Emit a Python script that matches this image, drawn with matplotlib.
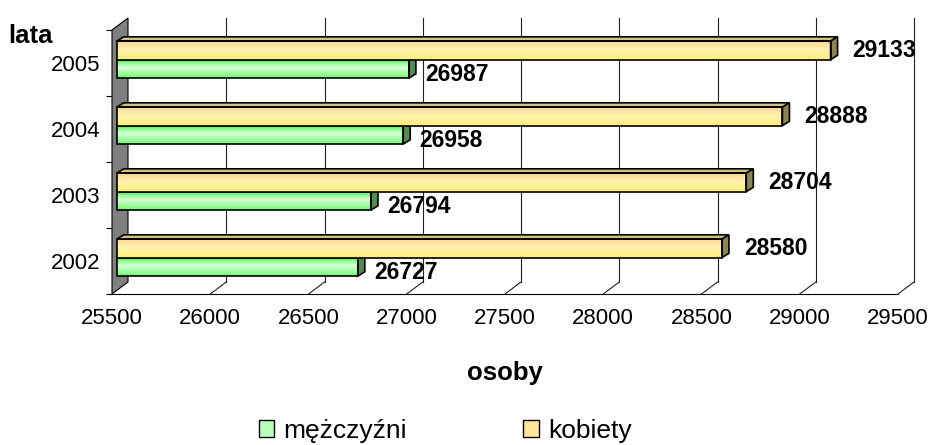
import numpy as np
import matplotlib
matplotlib.use("Agg")
import matplotlib.pyplot as plt
from matplotlib.patches import Polygon, Rectangle
from matplotlib.colors import LinearSegmentedColormap

plt.rcParams['font.family'] = ['Liberation Sans', 'DejaVu Sans']

# === Data ===
years = ["2002", "2003", "2004", "2005"]
men = [26727, 26794, 26958, 26987]
women = [28580, 28704, 28888, 29133]
series_names = ["mężczyźni", "kobiety"]
x_ticks = [25500, 26000, 26500, 27000, 27500, 28000, 28500, 29000, 29500]

# === Figure / axes geometry (pixels) ===
W, H = 932, 445
fig = plt.figure(figsize=(W / 100, H / 100), dpi=100)
ax_l, ax_r, ax_top, ax_bot = 112, 898, 30, 294
ax = fig.add_axes([ax_l / W, 1 - ax_bot / H, (ax_r - ax_l) / W, (ax_bot - ax_top) / H])
xmin, xmax = x_ticks[0], x_ticks[-1]
ax.set_xlim(xmin, xmax)
ax.set_ylim(-0.5, len(years) - 0.5)

ux = (xmax - xmin) / (ax_r - ax_l)      # data units per pixel (x)
uy = len(years) / (ax_bot - ax_top)     # data units per pixel (y)

# depth of the walls and bars, in pixels
wall_dx, wall_dy = 16 * ux, 12 * uy
bar_ox, bar_oy = 4.7 * ux, 3.4 * uy
bar_dx, bar_dy = 7 * ux, 4.3 * uy
bar_h = 0.28

# === Walls / grid ===
y0, y1 = -0.5, len(years) - 0.5
ax.add_patch(Polygon([(xmin, y0), (xmin + wall_dx, y0 + wall_dy),
                      (xmin + wall_dx, y1 + wall_dy), (xmin, y1)],
                     closed=True, facecolor="#808080", edgecolor="black",
                     lw=0.8, clip_on=False, zorder=2))
for xt in x_ticks[1:]:
    ax.plot([xt + wall_dx, xt + wall_dx], [y0 + wall_dy, y1 + wall_dy],
            color="#222222", lw=0.8, clip_on=False, zorder=1)
    ax.plot([xt, xt + wall_dx], [y0, y0 + wall_dy],
            color="#222222", lw=0.8, clip_on=False, zorder=1)

# === Bars ===
cmap_y = LinearSegmentedColormap.from_list(
    "yel", [(0, "#ffd596"), (0.45, "#fff2b0"), (1, "#ffee74")])
cmap_g = LinearSegmentedColormap.from_list(
    "grn", [(0, "#22e622"), (0.15, "#7cfc7c"), (0.45, "#d8ffd8"), (1, "#70fa70")])
grad = np.linspace(0, 1, 64).reshape(-1, 1)


def draw_bars(values, shift, cmap, top_col, end_col, z):
    yc = np.arange(len(values)) + shift + bar_oy
    bars = ax.barh(yc, np.array(values) - xmin, left=xmin + bar_ox, height=bar_h,
                   facecolor="none", edgecolor="black", lw=1.2, zorder=z + 0.2)
    for b, v in zip(bars, values):
        bx0, by0 = b.get_x(), b.get_y()
        bx1, by1 = bx0 + b.get_width(), by0 + b.get_height()
        im = ax.imshow(grad, cmap=cmap, extent=[bx0, bx1, by0, by1],
                       aspect="auto", origin="upper", zorder=z, interpolation="bilinear")
        clip = Rectangle((bx0, by0), bx1 - bx0, by1 - by0, transform=ax.transData)
        im.set_clip_path(clip)
        ax.add_patch(Polygon([(bx0, by1), (bx1, by1), (bx1 + bar_dx, by1 + bar_dy),
                              (bx0 + bar_dx, by1 + bar_dy)], closed=True,
                             facecolor=top_col, edgecolor="black", lw=1.2, zorder=z + 0.1))
        ax.add_patch(Polygon([(bx1, by0), (bx1, by1), (bx1 + bar_dx, by1 + bar_dy),
                              (bx1 + bar_dx, by0 + bar_dy)], closed=True,
                             facecolor=end_col, edgecolor="black", lw=1.2, zorder=z + 0.1))
    return yc


yc_m = draw_bars(men, -bar_h / 2, cmap_g, "#66aa66", "#558a55", 3)
yc_w = draw_bars(women, bar_h / 2, cmap_y, "#cfc383", "#8a8450", 4)

# value labels
for v, yc in zip(women, yc_w):
    ax.text(v + bar_ox + 22 * ux, yc, f"{v}", ha="left", va="center",
            fontsize=16.5, fontweight="bold", zorder=6, clip_on=False)
for v, yc in zip(men, yc_m):
    ax.text(v + bar_ox + 16 * ux, yc - 6 * uy, f"{v}", ha="left", va="center",
            fontsize=16.5, fontweight="bold", zorder=6, clip_on=False)

# === Axes styling ===
for s in ["top", "right", "left"]:
    ax.spines[s].set_visible(False)
ax.spines["bottom"].set_color("black")
ax.spines["bottom"].set_zorder(5)
ax.set_xticks(x_ticks)
ax.set_xticklabels([str(t) for t in x_ticks])
ax.tick_params(axis="x", length=0, pad=10, labelsize=16)
ax.set_yticks(range(len(years)))
ax.set_yticklabels(years)
ax.set_yticks(np.arange(-0.5, len(years)), minor=True)
ax.tick_params(axis="y", which="major", length=0, pad=8.5, labelsize=16)
ax.tick_params(axis="y", which="minor", length=4, width=0.8, direction="out")
ax.set_facecolor("none")

ax.set_xlabel("osoby", fontsize=18.5, fontweight="bold", labelpad=23)
ax.set_ylabel("lata", fontsize=18.5, fontweight="bold", rotation=0, ha="center", va="center")
ax.yaxis.set_label_coords((31 - ax_l) / (ax_r - ax_l), (ax_bot - 36) / (ax_bot - ax_top))

# === Legend ===
h_m = Rectangle((0, 0), 1, 1, facecolor="#b8ffb8", edgecolor="black", lw=1.0)
h_w = Rectangle((0, 0), 1, 1, facecolor="#ffe79a", edgecolor="black", lw=1.0)
fig.legend([h_m, h_w], series_names, loc="center", bbox_to_anchor=(445 / W, 1 - 431 / H),
           ncol=2, frameon=False, fontsize=19, handlelength=0.6, handleheight=0.6,
           handletextpad=0.34, columnspacing=4.4)

fig.savefig("out.png", dpi=100)
